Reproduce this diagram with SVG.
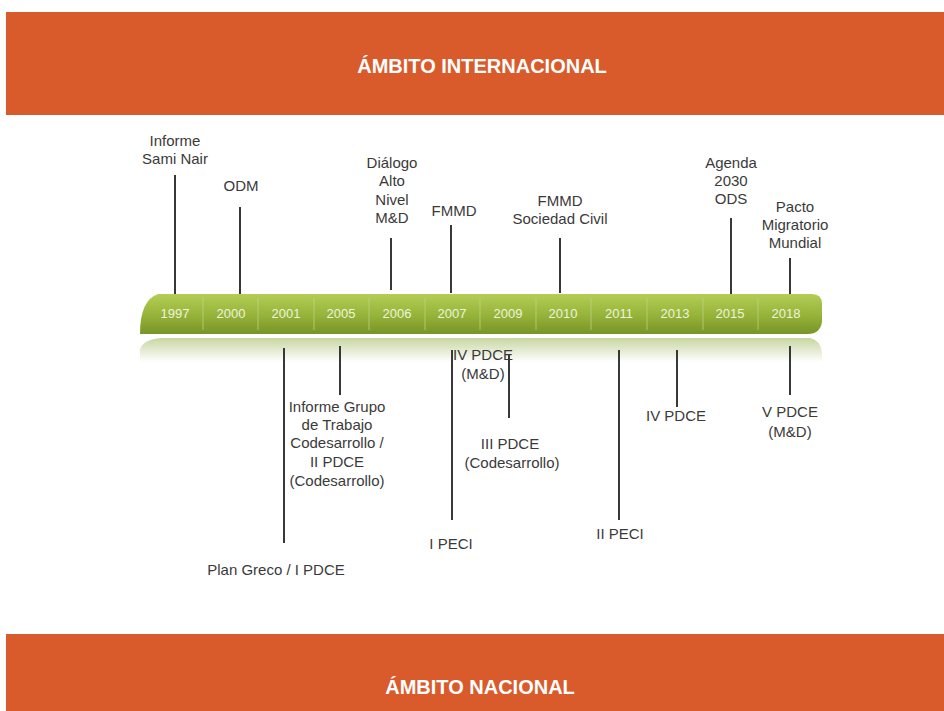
<svg xmlns="http://www.w3.org/2000/svg" width="944" height="711" viewBox="0 0 944 711">
<defs>
<linearGradient id="bar" x1="0" y1="0" x2="0" y2="1">
<stop offset="0" stop-color="#b4cd56"/>
<stop offset="0.5" stop-color="#98b53b"/>
<stop offset="1" stop-color="#779428"/>
</linearGradient>
<linearGradient id="refl" x1="0" y1="0" x2="0" y2="1">
<stop offset="0" stop-color="#c9d6a0"/>
<stop offset="0.5" stop-color="#e3ead0"/>
<stop offset="1" stop-color="#ffffff"/>
</linearGradient>
<style>
.banner{fill:#d95b2b}
.bt{font-family:"Liberation Sans",Arial,sans-serif;font-size:20px;font-weight:bold;fill:#ffffff;text-anchor:middle}
.t{font-family:"Liberation Sans",Arial,sans-serif;font-size:15px;fill:#3a3a3a;text-anchor:middle}
.yr{font-family:"Liberation Sans",Arial,sans-serif;font-size:13px;fill:#eef3dc;text-anchor:middle}
.sep{stroke:#c2d68a;stroke-width:1;opacity:0.7}
.ln{stroke:#383838;stroke-width:2;fill:none}
</style>
</defs>
<rect width="944" height="711" fill="#ffffff"/>
<g id="banner-top">
<rect class="banner" x="6" y="12" width="938" height="103"/>
<text class="bt" x="482" y="73">ÁMBITO INTERNACIONAL</text>
</g>
<g id="banner-bottom">
<rect class="banner" x="6" y="634" width="938" height="77"/>
<text class="bt" x="480" y="694">ÁMBITO NACIONAL</text>
</g>
<g id="timeline">
<path d="M140 350 Q142 340 160 338 L810 338 Q820 340 822 352 L822 362 L140 362 Z" fill="url(#refl)"/>
<path d="M158 294 L812 294 Q822 294 822 304 L822 322 Q820 334 808 334 L140 334 Q140 300 158 294 Z" fill="url(#bar)"/>
<g>
<line class="sep" x1="203" y1="298" x2="203" y2="330"/>
<line class="sep" x1="258" y1="298" x2="258" y2="330"/>
<line class="sep" x1="314" y1="298" x2="314" y2="330"/>
<line class="sep" x1="369" y1="298" x2="369" y2="330"/>
<line class="sep" x1="425" y1="298" x2="425" y2="330"/>
<line class="sep" x1="480" y1="298" x2="480" y2="330"/>
<line class="sep" x1="536" y1="298" x2="536" y2="330"/>
<line class="sep" x1="591" y1="298" x2="591" y2="330"/>
<line class="sep" x1="647" y1="298" x2="647" y2="330"/>
<line class="sep" x1="703" y1="298" x2="703" y2="330"/>
<line class="sep" x1="758" y1="298" x2="758" y2="330"/>
</g>
<text class="yr" x="175" y="318">1997</text>
<text class="yr" x="231" y="318">2000</text>
<text class="yr" x="286" y="318">2001</text>
<text class="yr" x="341" y="318">2005</text>
<text class="yr" x="397" y="318">2006</text>
<text class="yr" x="452" y="318">2007</text>
<text class="yr" x="508" y="318">2009</text>
<text class="yr" x="563" y="318">2010</text>
<text class="yr" x="619" y="318">2011</text>
<text class="yr" x="675" y="318">2013</text>
<text class="yr" x="730" y="318">2015</text>
<text class="yr" x="786" y="318">2018</text>
</g>
<g id="connectors">
<line class="ln" x1="175" y1="175" x2="175" y2="294"/>
<line class="ln" x1="240" y1="207" x2="240" y2="294"/>
<line class="ln" x1="391" y1="238" x2="391" y2="290"/>
<line class="ln" x1="451" y1="225" x2="451" y2="293"/>
<line class="ln" x1="560" y1="238" x2="560" y2="293"/>
<line class="ln" x1="731" y1="218" x2="731" y2="294"/>
<line class="ln" x1="790" y1="258" x2="790" y2="294"/>
<line class="ln" x1="284" y1="348" x2="284" y2="543"/>
<line class="ln" x1="340" y1="346" x2="340" y2="395"/>
<line class="ln" x1="452" y1="350" x2="452" y2="520"/>
<line class="ln" x1="509" y1="355" x2="509" y2="418"/>
<line class="ln" x1="619" y1="350" x2="619" y2="520"/>
<line class="ln" x1="677" y1="350" x2="677" y2="407"/>
<line class="ln" x1="790" y1="346" x2="790" y2="395"/>
</g>
<g id="n-sami"><text class="t" x="175" y="146">Informe</text><text class="t" x="175" y="164">Sami Nair</text></g>
<g id="n-odm"><text class="t" x="241" y="191">ODM</text></g>
<g id="n-dialogo"><text class="t" x="392" y="168">Diálogo</text><text class="t" x="392" y="186">Alto</text><text class="t" x="392" y="205">Nivel</text><text class="t" x="392" y="223">M&amp;D</text></g>
<g id="n-fmmd"><text class="t" x="454" y="216">FMMD</text></g>
<g id="n-fmmd-sc"><text class="t" x="560" y="206">FMMD</text><text class="t" x="560" y="224">Sociedad Civil</text></g>
<g id="n-agenda"><text class="t" x="731" y="168">Agenda</text><text class="t" x="731" y="186">2030</text><text class="t" x="731" y="204">ODS</text></g>
<g id="n-pacto"><text class="t" x="795" y="212">Pacto</text><text class="t" x="795" y="230">Migratorio</text><text class="t" x="795" y="248">Mundial</text></g>
<g id="n-greco"><text class="t" x="276" y="575">Plan Greco / I PDCE</text></g>
<g id="n-grupo"><text class="t" x="337" y="412">Informe  Grupo</text><text class="t" x="337" y="430">de Trabajo</text><text class="t" x="337" y="448">Codesarrollo /</text><text class="t" x="337" y="467">II PDCE</text><text class="t" x="337" y="486">(Codesarrollo)</text></g>
<g id="n-ipeci"><text class="t" x="451" y="549">I PECI</text></g>
<g id="n-ivmd"><text class="t" x="483" y="360">IV PDCE</text><text class="t" x="483" y="379">(M&amp;D)</text></g>
<g id="n-iii"><text class="t" x="510" y="449">III  PDCE</text><text class="t" x="512" y="468">(Codesarrollo)</text></g>
<g id="n-iipeci"><text class="t" x="620" y="539">II PECI</text></g>
<g id="n-iv"><text class="t" x="676" y="421">IV PDCE</text></g>
<g id="n-v"><text class="t" x="790" y="417">V PDCE</text><text class="t" x="790" y="437">(M&amp;D)</text></g>
</svg>
